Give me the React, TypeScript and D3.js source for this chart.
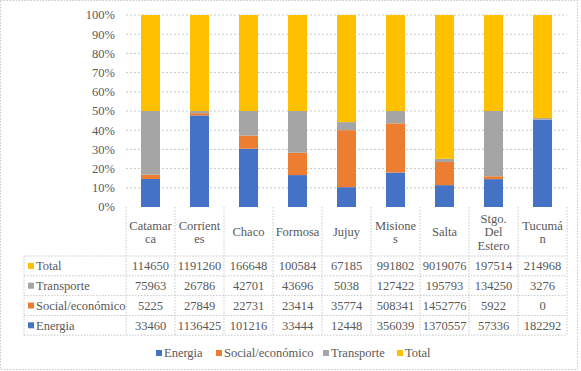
import React from "react";
import * as d3 from "d3";

const categories = ["Catamarca", "Corrientes", "Chaco", "Formosa", "Jujuy", "Misiones", "Salta", "Stgo. Del Estero", "Tucumán"];
const headerLines = [["Catamar", "ca"], ["Corrient", "es"], ["Chaco"], ["Formosa"], ["Jujuy"], ["Misione", "s"], ["Salta"], ["Stgo.", "Del", "Estero"], ["Tucumá", "n"]];
const seriesNames = ["Energia", "Social/económico", "Transporte", "Total"];
const energia = [33460, 1136425, 101216, 33444, 12448, 356039, 1370557, 57336, 182292];
const social = [5225, 27849, 22731, 23414, 35774, 508341, 1452776, 5922, 0];
const transporte = [75963, 26786, 42701, 43696, 5038, 127422, 195793, 134250, 3276];
const total = [114650, 1191260, 166648, 100584, 67185, 991802, 9019076, 197514, 214968];
const yTicks = [0, 0.1, 0.2, 0.3, 0.4, 0.5, 0.6, 0.7, 0.8, 0.9, 1];
const colors = ["#4472C4", "#ED7D31", "#A5A5A5", "#FFC000"];

const W = 581, H = 371;
const TXT = "#595959";
const LINE = "#c8c8c8";
const textStyle = { fontFamily: '"Liberation Serif"', fontSize: 12.5 };

export default function App() {
  const values = [energia, social, transporte, total];
  const rows = categories.map((c, i) => {
    const r: any = { cat: c };
    seriesNames.forEach((s, k) => (r[s] = values[k][i]));
    return r;
  });
  const stacked = d3.stack().keys(seriesNames).offset(d3.stackOffsetExpand)(rows);

  const x = d3.scaleBand().domain(categories).range([126, 567]);
  const barW = 19;
  const y = d3.scaleLinear().domain([0, 1]).range([207, 15]);
  const fmt = d3.format(".0%");

  // table rows, top to bottom: Total, Transporte, Social, Energia
  const tableOrder = [3, 2, 1, 0];
  const rowTop = 256, rowH = 19.8;
  const tableBottom = rowTop + rowH * 4;

  const legendX = [156, 216, 323, 397];

  return (
    <svg width={W} height={H} style={{ position: "absolute", left: 0, top: 0, background: "#fff" }}>
      <rect x={0.5} y={0.5} width={577} height={369} fill="#fff" stroke={LINE} strokeDasharray="1.5,1.5" />
      {/* grid */}
      {yTicks.map((t) => (
        <g key={t}>
          {t > 0 && <line x1={126} x2={567} y1={y(t)} y2={y(t)} stroke={LINE} strokeDasharray="2,2" />}
          <text x={115} y={y(t)} dy="0.35em" textAnchor="end" fill={TXT} style={textStyle}>{fmt(t)}</text>
        </g>
      ))}
      {/* bars */}
      {stacked.map((s, k) => (
        <g key={s.key} fill={colors[k]}>
          {s.map((d: any, i: number) => (
            <rect key={i} x={(x(categories[i]) as number) + (x.bandwidth() - barW) / 2} width={barW} y={y(d[1])} height={Math.max(0, y(d[0]) - y(d[1]))} />
          ))}
        </g>
      ))}
      {/* table lines */}
      <g stroke={LINE} strokeDasharray="1.5,1.5" fill="none">
        {categories.map((c) => (
          <line key={c} x1={x(c) as number} x2={x(c) as number} y1={207} y2={tableBottom} />
        ))}
        <line x1={567} x2={567} y1={207} y2={tableBottom} />
        <line x1={24} x2={24} y1={rowTop} y2={tableBottom} />
        {[0, 1, 2, 3, 4].map((r) => (
          <line key={r} x1={24} x2={567} y1={rowTop + r * rowH} y2={rowTop + r * rowH} />
        ))}
      </g>
      {/* header */}
      {headerLines.map((lines, i) => {
        const cx = (x(categories[i]) as number) + x.bandwidth() / 2;
        const mid = 232;
        return (
          <text key={i} x={cx} textAnchor="middle" fill={TXT} style={textStyle}>
            {lines.map((l, j) => (
              <tspan key={j} x={cx} y={mid + (j - (lines.length - 1) / 2) * 13.5} dy="0.35em">{l}</tspan>
            ))}
          </text>
        );
      })}
      {/* data rows */}
      {tableOrder.map((k, r) => {
        const cy = rowTop + r * rowH + rowH / 2;
        return (
          <g key={k}>
            <rect x={28} y={cy - 3} width={6} height={6} fill={colors[k]} />
            <text x={36} y={cy} dy="0.35em" fill={TXT} style={textStyle}>{seriesNames[k]}</text>
            {values[k].map((v, i) => (
              <text key={i} x={(x(categories[i]) as number) + x.bandwidth() / 2} y={cy} dy="0.35em" textAnchor="middle" fill={TXT} style={textStyle}>{v}</text>
            ))}
          </g>
        );
      })}
      {/* legend */}
      {seriesNames.map((s, k) => (
        <g key={s}>
          <rect x={legendX[k]} y={350} width={6} height={6} fill={colors[k]} />
          <text x={legendX[k] + 8} y={353} dy="0.35em" fill={TXT} style={textStyle}>{s}</text>
        </g>
      ))}
    </svg>
  );
}
